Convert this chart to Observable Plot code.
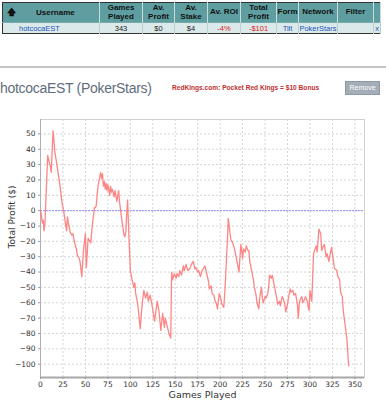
<!DOCTYPE html>
<html><head><meta charset="utf-8">
<script src="https://cdn.jsdelivr.net/npm/d3@7"></script>
<script src="https://cdn.jsdelivr.net/npm/@observablehq/plot@0.6"></script>
<style>
body{margin:0;background:#fff;width:386px;height:400px;overflow:hidden;position:relative;font-family:"Liberation Sans",Arial,sans-serif;}
table.t{position:absolute;left:2px;top:2px;border-collapse:collapse;border:1px solid #333;table-layout:fixed;width:378px;}
table.t td{padding:0;text-align:center;overflow:hidden;white-space:nowrap;}
table.t tr.h td{background:#5f9ea0;height:19px;font-weight:bold;font-size:8px;line-height:8.5px;color:#111;border-right:1px solid #c8dcdc;}
table.t tr.d td{background:#dce9ea;height:10px;font-size:7.5px;line-height:9px;color:#222;border-right:1px solid #b9cfd1;border-top:1px solid #7aa;}
table.t tr.d td.b{color:#2255bb}
table.t tr.d td.r{color:#e02020}
#sep{position:absolute;left:0;top:66px;width:386px;height:2px;background:#c4c4c4;}
#title{position:absolute;left:0;top:81px;font-size:14px;line-height:14px;letter-spacing:-0.3px;color:#5e6d7c;white-space:nowrap;}
#promo{position:absolute;left:172px;top:84px;font-size:6.6px;line-height:7px;font-weight:bold;color:#c03030;white-space:nowrap;}
#btn{position:absolute;left:345px;top:81px;width:35px;height:14px;background:#a3aeb9;border:1px solid #8d99a4;box-sizing:border-box;color:#fff;font-size:7px;line-height:12px;text-align:center;}
#chart{position:absolute;left:0;top:105px;}
</style></head><body>
<table class="t">
<colgroup><col style="width:97px"><col style="width:43px"><col style="width:32px"><col style="width:33px"><col style="width:33px"><col style="width:36px"><col style="width:22px"><col style="width:39px"><col style="width:36px"><col style="width:7px"></colgroup>
<tr class="h"><td style="text-align:left;padding-left:0"><span style="font-size:9px;margin-left:4px">&#129093;</span><span style="margin-left:20px">Username</span></td><td>Games<br>Played</td><td>Av.<br>Profit</td><td>Av.<br>Stake</td><td>Av. ROI</td><td>Total<br>Profit</td><td>Form</td><td>Network</td><td>Filter</td><td></td></tr>
<tr class="d"><td class="b" style="text-align:left;padding-left:16px">hotcocaEST</td><td>343</td><td>$0</td><td>$4</td><td class="r">-4%</td><td class="r">-$101</td><td class="b">Tilt</td><td class="b">PokerStars</td><td></td><td class="b">x</td></tr>
</table>
<div id="sep"></div>
<div id="title">hotcocaEST (PokerStars)</div>
<div id="promo">RedKings.com: Pocket Red Kings = $10 Bonus</div>
<div id="btn">Remove</div>
<div id="chart"></div>
<script>
const games = [0,1,2,3,4,5,8,10,11,12,13,14,15,16,18,20,22,24,26,27,29,30,31,33,35,36,38,40,41,43,44,46,47,48,49,50,51,52,53,55,56,57,58,60,61,62,64,66,67,68,69,70,71,72,73,74,75,77,78,79,80,82,83,85,87,88,89,91,93,94,95,96,97,98,99,100,102,104,105,106,108,109,111,113,115,117,119,120,122,124,127,130,132,134,136,138,139,141,143,145,146,147,149,151,152,154,155,157,159,160,162,164,166,168,170,172,173,175,176,178,180,182,183,185,187,188,190,191,193,194,196,197,198,199,201,202,204,205,206,208,209,210,211,212,214,216,218,219,221,223,224,225,226,228,229,231,232,233,235,237,238,240,241,243,244,246,247,248,250,251,253,254,255,257,258,260,261,263,264,266,267,269,270,272,273,275,276,278,279,281,282,284,286,287,288,289,291,292,294,295,297,298,299,300,302,304,305,307,308,310,312,313,315,316,318,319,321,322,324,325,327,328,330,331,333,334,336,337,339,341,343];
const profits = [0,-3,-8,-6,-13,-8,36,31,29,25,40,52,45,38,31,23,15,5,-1,-5,-13,-4,-8,-14,-16,-15,-21,-25,-29,-31,-33,-43,-33,-25,-20,-15,-37,-28,-18,-20,-21,-14,-8,2,2,3,16,22,25,21,24,16,19,14,18,13,17,10,16,12,14,9,13,6,13,6,1,-8,-16,-17,-14,-2,7,-10,-25,-39,-45,-50,-47,-54,-60,-65,-77,-62,-52,-57,-53,-59,-55,-61,-72,-59,-66,-78,-67,-76,-70,-75,-80,-83,-40,-45,-41,-44,-41,-43,-39,-42,-36,-39,-35,-39,-38,-35,-33,-38,-37,-40,-39,-43,-39,-37,-36,-41,-46,-51,-49,-54,-55,-58,-61,-64,-59,-54,-58,-61,-63,-55,-44,-20,-5,-10,-15,-19,-21,-25,-31,-34,-40,-22,-26,-31,-25,-27,-23,-26,-26,-33,-39,-45,-50,-55,-60,-64,-57,-50,-57,-60,-56,-57,-54,-50,-42,-44,-42,-48,-51,-57,-61,-59,-62,-56,-57,-61,-66,-61,-57,-51,-53,-52,-55,-54,-61,-70,-61,-58,-56,-60,-58,-56,-59,-63,-65,-52,-59,-28,-26,-23,-27,-12,-15,-26,-23,-22,-30,-28,-33,-30,-24,-28,-37,-38,-39,-43,-45,-53,-56,-65,-74,-83,-101];
const xTicks = [0,25,50,75,100,125,150,175,200,225,250,275,300,325,350];
const yTicks = [50,40,30,20,10,0,-10,-20,-30,-40,-50,-60,-70,-80,-90,-100];
const xDomain = [0, 360.7];
const yDomain = [-108.7, 59.4];
const zeroLine = [0];

const data = games.map((g, i) => ({game: g, profit: profits[i]}));

const chart = Plot.plot({
  width: 386, height: 295,
  marginLeft: 40, marginRight: 22, marginTop: 14, marginBottom: 23,
  style: {fontFamily: "'DejaVu Sans', sans-serif", fontSize: "7.5px", color: "#333", background: "transparent"},
  x: {domain: xDomain, label: null},
  y: {domain: yDomain, label: null},
  marks: [
    Plot.gridX(xTicks, {stroke: "#d4d4d4", strokeOpacity: 1, strokeDasharray: "2,2"}),
    Plot.gridY(yTicks, {stroke: "#d4d4d4", strokeOpacity: 1, strokeDasharray: "2,2"}),
    Plot.ruleY(zeroLine, {stroke: "#7777ff", strokeDasharray: "2,1", strokeOpacity: 0.8}),
    Plot.frame({stroke: "#d0d0d0"}),
    Plot.ruleY([yDomain[0]], {stroke: "#a8a8a8", strokeWidth: 2}),
    Plot.ruleX([xDomain[0]], {stroke: "#b0b0b0"}),
    Plot.line(data, {x: "game", y: "profit", stroke: "#ff7070", strokeWidth: 1.3, strokeOpacity: 0.85}),
    Plot.axisX({ticks: xTicks, tickSize: 2, tickPadding: 2, stroke: "#999", label: null}),
    Plot.axisY({ticks: yTicks, tickSize: 2, tickPadding: 3, stroke: "#999", label: null}),
    Plot.text(["Games Played"], {frameAnchor: "bottom", dy: 20, fontSize: 9.5, fill: "#333"}),
    Plot.text(["Total Profit ($)"], {frameAnchor: "left", dx: -28, rotate: -90, fontSize: 9, fill: "#333"})
  ]
});
document.getElementById("chart").appendChild(chart);
</script>
</body></html>
